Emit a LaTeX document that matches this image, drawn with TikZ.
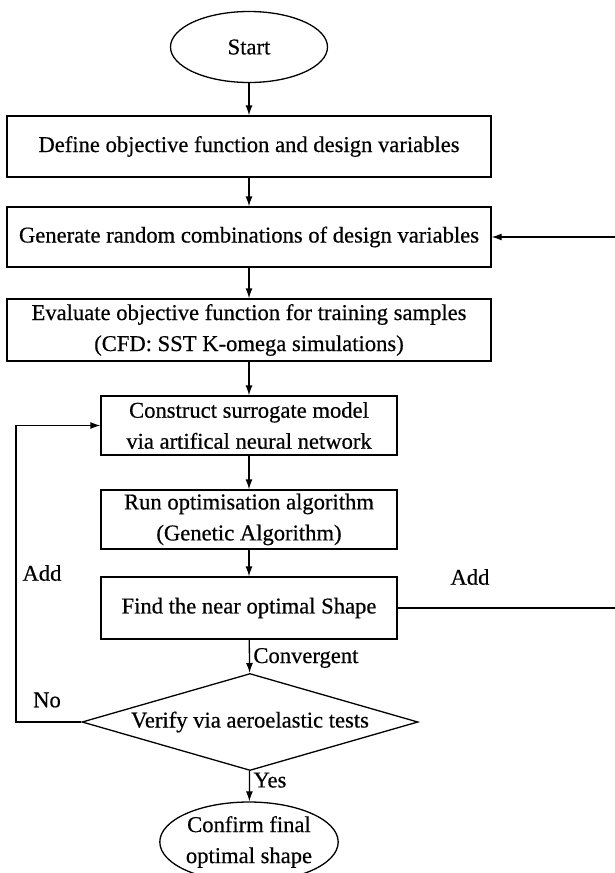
\documentclass[tikz,border=0pt]{standalone}
\usepackage{fontspec}
\setmainfont{Liberation Serif}[FakeBold=0.5]
\usetikzlibrary{shapes.geometric}
\usetikzlibrary{arrows.meta}

\begin{document}
\begin{tikzpicture}[x=1pt,y=-1pt,line width=1.3pt,font=\fontsize{22.6}{31}\selectfont,
  box/.style={draw,inner sep=0pt,align=center},
  term/.style={draw,ellipse,inner sep=0pt,align=center},
  cond/.style={draw,diamond,aspect=3.46,inner sep=0pt,minimum width=336pt,minimum height=97pt},
  flow/.style={-{Latex[length=10pt,width=7pt]}}]
\useasboundingbox (0,0) rectangle (615,873);
\node[term,minimum width=157pt,minimum height=71pt] (start) at (249,47) {Start};
\node[box,minimum width=484pt,minimum height=61pt] (define) at (249,146.5) {Define objective function and design variables};
\node[box,minimum width=484pt,minimum height=60pt] (generate) at (249,237) {Generate random combinations of design variables};
\node[box,minimum width=484pt,minimum height=62pt] (evaluate) at (249,330) {Evaluate objective function for training samples\\(CFD: SST K-omega simulations)};
\node[box,minimum width=296pt,minimum height=59pt] (surrogate) at (249,425.5) {Construct surrogate model\\via artifical neural network};
\node[box,minimum width=296pt,minimum height=59pt] (optimise) at (249,519.5) {Run optimisation algorithm\\(Genetic Algorithm)};
\node[box,minimum width=296pt,minimum height=62pt] (find) at (249,608) {Find the near optimal Shape};
\node[cond] (verify) at (250,722) {Verify via aeroelastic tests};
\node[term,minimum width=160pt,minimum height=80pt] (final) at (249,842) {Confirm final\\optimal shape};
\coordinate (lft) at (16,0);
\coordinate (rgt) at (616,0);
\draw[flow] (start) -- (define);
\draw[flow] (define) -- (generate);
\draw[flow] (generate) -- (evaluate);
\draw[flow] (evaluate) -- (surrogate);
\draw[flow] (surrogate) -- (optimise);
\draw[flow] (optimise) -- (find);
\draw[flow] (find) -- node[right,pos=0.55] {Convergent} (verify);
\draw[flow] (verify) -- node[right,pos=0.3] {Yes} (final);
\draw[flow] (find.east) -- (find.east -| rgt) |- (generate.east);
\draw[flow] (verify.west) -- (verify.west -| lft) |- (surrogate.west);
\node (addl) at (42,573) {Add};
\node (addr) at (470,577) {Add};
\node (no) at (47,700) {No};
\end{tikzpicture}
\end{document}
